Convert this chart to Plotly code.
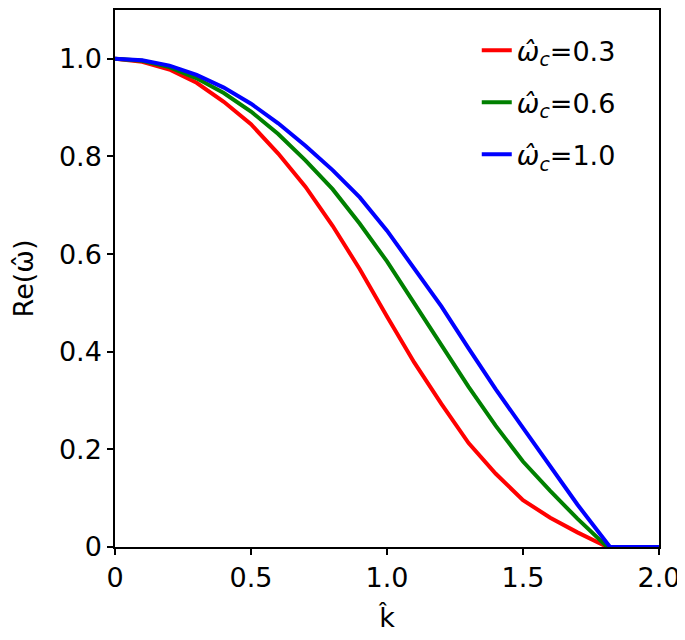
import plotly.graph_objects as go

# k-hat sample points and Re(omega-hat)
k_hat = [0, 0.1, 0.2, 0.3, 0.4, 0.5, 0.6, 0.7, 0.8, 0.9, 1.0, 1.1, 1.2, 1.3, 1.4, 1.5, 1.6, 1.7, 1.81, 2.0]

re_w_03 = [1.000, 0.994, 0.978, 0.951, 0.912, 0.866, 0.806, 0.738, 0.658, 0.569,
           0.472, 0.378, 0.293, 0.213, 0.150, 0.096, 0.060, 0.030, 0.0, 0.0]
re_w_06 = [1.000, 0.996, 0.983, 0.960, 0.930, 0.892, 0.846, 0.792, 0.733, 0.662,
           0.585, 0.500, 0.413, 0.328, 0.248, 0.175, 0.115, 0.058, 0.0, 0.0]

k_hat_10 = [0, 0.1, 0.2, 0.3, 0.4, 0.5, 0.6, 0.7, 0.8, 0.9, 1.0, 1.1, 1.2, 1.3, 1.4, 1.5, 1.6, 1.7, 1.82, 2.0]
re_w_10 = [1.000, 0.997, 0.986, 0.967, 0.941, 0.908, 0.868, 0.822, 0.772, 0.716,
           0.648, 0.572, 0.493, 0.407, 0.323, 0.244, 0.165, 0.087, 0.0, 0.0]

series = [
    ("0.3", k_hat, re_w_03, "#ff0000"),
    ("0.6", k_hat, re_w_06, "#008000"),
    ("1.0", k_hat_10, re_w_10, "#0000ff"),
]

x_ticks = [0, 0.5, 1.0, 1.5, 2.0]
x_ticktext = ["0", "0.5", "1.0", "1.5", "2.0"]
y_ticks = [0, 0.2, 0.4, 0.6, 0.8, 1.0]
y_ticktext = ["0", "0.2", "0.4", "0.6", "0.8", "1.0"]

FS = 27

fig = go.Figure()
for i, (wc, x, y, color) in enumerate(series):
    fig.add_trace(go.Scatter(
        x=x, y=y, mode="lines",
        line=dict(color=color, width=4),
        name="<i>ω̂</i><sub><i>c</i></sub>=" + wc,
        legendgroup="g%d" % i,
    ))

axis_style = dict(
    showline=True, linecolor="black", linewidth=1.5, mirror=True,
    ticks="outside", ticklen=6, tickwidth=1.5, tickcolor="black",
    showgrid=False, zeroline=False,
    tickfont=dict(size=FS, color="black"),
)

# page body has an 8px margin, so the figure is a bit smaller than the window
fig.update_layout(
    width=677, height=632,
    margin=dict(l=107, r=26, t=0, b=93),
    plot_bgcolor="white", paper_bgcolor="white",
    font=dict(family="DejaVu Sans", color="black", size=FS),
    xaxis=dict(range=[0, 2.0], tickvals=x_ticks, ticktext=x_ticktext,
               title=dict(text="k\u0302", font=dict(size=FS), standoff=16), **axis_style),
    yaxis=dict(range=[0, 1.1], tickvals=y_ticks, ticktext=y_ticktext,
               title=dict(text="Re(\u03c9\u0302)", font=dict(size=FS), standoff=18), **axis_style),
    legend=dict(x=0.665, y=0.97, xanchor="left", yanchor="top",
                bgcolor="rgba(0,0,0,0)", font=dict(size=FS),
                tracegroupgap=14),
    showlegend=True,
)

fig.write_html("out.html")
